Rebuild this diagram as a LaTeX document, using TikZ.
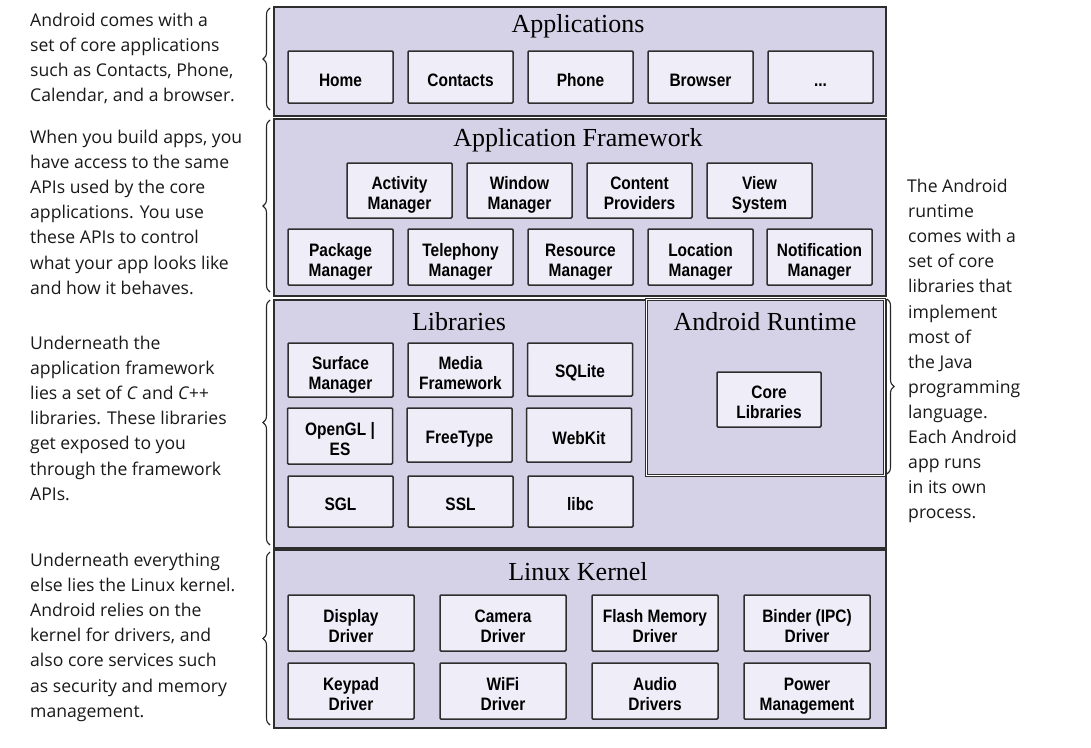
\documentclass[tikz,border=0pt]{standalone}
\usepackage{fontspec}
\usetikzlibrary{decorations.pathreplacing}
\newfontfamily\sidefont{Open Sans}
\newfontfamily\boxfont[FakeStretch=0.86]{Liberation Sans}
\newfontfamily\headfont{Liberation Serif}
\definecolor{panelfill}{HTML}{D5D2E7}
\definecolor{boxfill}{HTML}{EFEEF8}
\definecolor{edge}{HTML}{2E2E2E}
\newcommand{\twol}[2]{\raisebox{-5pt}[\height][\depth]{\begin{tabular}{@{}c@{}}#1\\#2\end{tabular}}}
\begin{document}
\begin{tikzpicture}[x=1pt,y=-1pt,
  panel/.style={draw=edge,line width=2pt,fill=panelfill,inner sep=0pt,anchor=north west},
  bx/.style={draw=edge,line width=1.5pt,fill=boxfill,rounded corners=1pt,align=center,
    inner sep=0pt,font=\boxfont\bfseries\fontsize{18}{20}\selectfont,
    execute at begin node={\rule{0pt}{20pt}},
    execute at end node={\rule[-2pt]{0pt}{2pt}}},
  two/.style={execute at begin node={},execute at end node={}},
  sbx/.style={bx,minimum width=105pt},
  kbx/.style={bx,two,minimum width=126pt,minimum height=56pt},
  head/.style={font=\headfont\fontsize{26}{30}\selectfont,inner sep=0pt},
  side/.style={font=\sidefont\fontsize{17.6}{25.1}\selectfont,align=left,anchor=north west,inner sep=0pt,text=black!90},
  brc/.style={draw=black!85,line width=1.1pt,decorate,decoration={brace,amplitude=7pt}}]
\useasboundingbox (0,0) rectangle (1091,747);
\fill[white] (0,0) rectangle (1091,747);
% panels
\node[panel,minimum width=612pt,minimum height=109pt] (papp) at (273,6) {};
\node[panel,minimum width=612pt,minimum height=177pt] (pfw) at (273,118) {};
\node[panel,minimum width=612pt,minimum height=248pt] (plib) at (273,299) {};
\node[panel,minimum width=612pt,minimum height=178pt] (plin) at (273,549) {};
\node[anchor=north west,inner sep=0pt,minimum width=238pt,minimum height=176pt,
  draw=edge,line width=1.2pt,double=white,double distance=1.2pt,fill=panelfill] (prt) at (646,299) {};
% headers
\node[head] (happ) at (578,26) {Applications};
\node[head] (hfw) at (578,140) {Application Framework};
\node[head] (hlib) at (459,322) {Libraries};
\node[head] (hrt) at (765,322) {Android Runtime};
\node[head] (hlin) at (578,572) {Linux Kernel};
% applications
\node[sbx,minimum height=52pt] (home) at (340.5,77) {Home};
\node[sbx,minimum height=52pt] (contacts) at (460.5,77) {Contacts};
\node[sbx,minimum height=52pt] (phone) at (580.5,77) {Phone};
\node[sbx,minimum height=52pt] (browser) at (700.5,77) {Browser};
\node[sbx,minimum height=52pt] (more) at (820.5,77) {...};
% framework
\node[sbx,two,minimum height=55pt] (activity) at (399.5,190.5) {\twol{Activity}{Manager}};
\node[sbx,two,minimum height=55pt] (window) at (519.5,190.5) {\twol{Window}{Manager}};
\node[sbx,two,minimum height=55pt] (content) at (639.5,190.5) {\twol{Content}{Providers}};
\node[sbx,two,minimum height=55pt] (view) at (759.5,190.5) {\twol{View}{System}};
\node[sbx,two,minimum height=56pt] (package) at (340.5,257) {\twol{Package}{Manager}};
\node[sbx,two,minimum height=56pt] (telephony) at (460.5,257) {\twol{Telephony}{Manager}};
\node[sbx,two,minimum height=56pt] (resource) at (580.5,257) {\twol{Resource}{Manager}};
\node[sbx,two,minimum height=56pt] (location) at (700.5,257) {\twol{Location}{Manager}};
\node[sbx,two,minimum height=56pt] (notification) at (819.5,257) {\twol{Notification}{Manager}};
% libraries
\node[sbx,two,minimum height=54pt] (surface) at (340.5,370) {\twol{Surface}{Manager}};
\node[sbx,two,minimum height=54pt] (media) at (460.5,370) {\twol{Media}{Framework}};
\node[sbx,minimum height=53pt] (sqlite) at (580,369.5) {SQLite};
\node[sbx,two,minimum height=56pt] (opengl) at (340,436) {\twol{OpenGL |}{ES}};
\node[sbx,minimum height=54pt] (freetype) at (459.5,435) {FreeType};
\node[sbx,minimum height=54pt] (webkit) at (579,435) {WebKit};
\node[sbx,minimum height=51pt] (sgl) at (340.5,501.5) {SGL};
\node[sbx,minimum height=51pt] (ssl) at (460.5,501.5) {SSL};
\node[sbx,minimum height=51pt] (libc) at (580.5,501.5) {libc};
% runtime
\node[sbx,two,minimum width=104pt,minimum height=55pt] (core) at (769,399.5) {\twol{Core}{Libraries}};
% kernel
\node[kbx] (display) at (351,623) {\twol{Display}{Driver}};
\node[kbx] (camera) at (503,623) {\twol{Camera}{Driver}};
\node[kbx] (flash) at (655,623) {\twol{Flash Memory}{Driver}};
\node[kbx] (binder) at (807,623) {\twol{Binder (IPC)}{Driver}};
\node[kbx] (keypad) at (351,691) {\twol{Keypad}{Driver}};
\node[kbx] (wifi) at (503,691) {\twol{WiFi}{Driver}};
\node[kbx] (audio) at (655,691) {\twol{Audio}{Drivers}};
\node[kbx] (power) at (807,691) {\twol{Power}{Management}};
% braces
\coordinate (b1a) at (270,110); \coordinate (b1b) at (270,8);
\coordinate (b2a) at (270,292); \coordinate (b2b) at (270,120);
\coordinate (b3a) at (270,545); \coordinate (b3b) at (270,300);
\coordinate (b4a) at (270,725); \coordinate (b4b) at (270,552);
\coordinate (b5a) at (887,299); \coordinate (b5b) at (887,474);
\draw[brc] (b1a) -- (b1b);
\draw[brc] (b2a) -- (b2b);
\draw[brc] (b3a) -- (b3b);
\draw[brc] (b4a) -- (b4b);
\draw[brc] (b5a) -- (b5b);
% side texts
\node[side] (t1) at (30,13) {Android comes with a\\set of core applications\\such as Contacts, Phone,\\Calendar, and a browser.};
\node[side] (t2) at (30,130) {When you build apps, you\\have access to the same\\APIs used by the core\\applications. You use\\these APIs to control\\what your app looks like\\and how it behaves.};
\node[side] (t3) at (30,336) {Underneath the\\application framework\\lies a set of \textit{C} and \textit{C++}\\libraries. These libraries\\get exposed to you\\through the framework\\APIs.};
\node[side] (t4) at (30,553) {Underneath everything\\else lies the Linux kernel.\\Android relies on the\\kernel for drivers, and\\also core services such\\as security and memory\\management.};
\node[side] (t5) at (907,179) {The Android\\\hspace*{1pt}runtime\\\hspace*{1pt}comes with a\\\hspace*{1pt}set of core\\\hspace*{1pt}libraries that\\\hspace*{1pt}implement\\\hspace*{1pt}most of\\\hspace*{1pt}the Java\\\hspace*{1pt}programming\\\hspace*{1pt}language.\\\hspace*{1pt}Each Android\\\hspace*{1pt}app runs\\\hspace*{1pt}in its own\\\hspace*{1pt}process.};
\end{tikzpicture}
\end{document}
